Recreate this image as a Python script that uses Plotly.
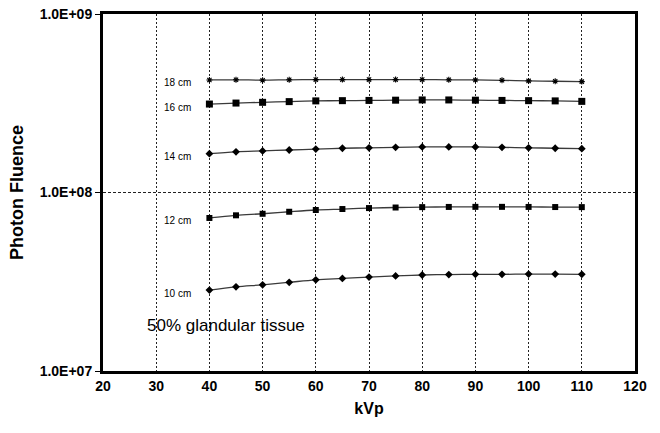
import math
import plotly.graph_objects as go

kvp = [40, 45, 50, 55, 60, 65, 70, 75, 80, 85, 90, 95, 100, 105, 110]
fluence_18 = [4.27e8, 4.28e8, 4.26e8, 4.28e8, 4.29e8, 4.29e8, 4.29e8, 4.29e8, 4.29e8, 4.28e8, 4.27e8, 4.25e8, 4.22e8, 4.20e8, 4.18e8]
fluence_16 = [3.13e8, 3.17e8, 3.20e8, 3.23e8, 3.26e8, 3.27e8, 3.28e8, 3.29e8, 3.30e8, 3.30e8, 3.29e8, 3.28e8, 3.27e8, 3.26e8, 3.24e8]
fluence_14 = [1.65e8, 1.69e8, 1.71e8, 1.73e8, 1.75e8, 1.77e8, 1.78e8, 1.79e8, 1.80e8, 1.80e8, 1.80e8, 1.79e8, 1.78e8, 1.77e8, 1.76e8]
fluence_12 = [7.20e7, 7.45e7, 7.60e7, 7.80e7, 7.98e7, 8.08e7, 8.18e7, 8.24e7, 8.28e7, 8.30e7, 8.31e7, 8.31e7, 8.30e7, 8.29e7, 8.28e7]
fluence_10 = [2.84e7, 2.96e7, 3.04e7, 3.14e7, 3.24e7, 3.30e7, 3.36e7, 3.41e7, 3.45e7, 3.47e7, 3.48e7, 3.48e7, 3.49e7, 3.49e7, 3.48e7]
series_labels = ["18 cm", "16 cm", "14 cm", "12 cm", "10 cm"]
note_text = "50% glandular tissue"
x_ticks = [20, 30, 40, 50, 60, 70, 80, 90, 100, 110, 120]
y_ticks = [1e7, 1e8, 1e9]
y_tick_text = ["1.0E+07", "1.0E+08", "1.0E+09"]

FONT = "Liberation Sans, Arial, sans-serif"
series = [fluence_18, fluence_16, fluence_14, fluence_12, fluence_10]
markers = [
    dict(symbol="asterisk-open", size=5, line=dict(width=1.1, color="black")),
    dict(symbol="square", size=7),
    dict(symbol="diamond", size=6),
    dict(symbol="square", size=6),
    dict(symbol="diamond", size=6),
]

fig = go.Figure()
for vals, mk, lab in zip(series, markers, series_labels):
    fig.add_trace(go.Scatter(
        x=kvp, y=vals, mode="lines+markers",
        line=dict(color="#3a3a3a", width=1.3, shape="spline"),
        marker=dict(color="black", **mk),
        showlegend=False, name=lab, cliponaxis=False,
    ))
    fig.add_annotation(x=37.0, y=math.log10(vals[0]), text=lab, showarrow=False,
                       xanchor="right", yanchor="middle", yshift=-3,
                       font=dict(size=10, color="black", family=FONT))

fig.add_annotation(x=27.9, y=math.log10(1.79e7), text=note_text, showarrow=False,
                   xanchor="left", yanchor="middle",
                   font=dict(size=17, color="black", family=FONT))

fig.update_layout(
    width=660, height=433,
    margin=dict(l=103, r=25, t=14, b=62),
    paper_bgcolor="white", plot_bgcolor="white",
    font=dict(family=FONT, color="black"),
    xaxis=dict(
        range=[20, 120], tickvals=x_ticks, automargin=False,
        showgrid=True, gridcolor="#222222", gridwidth=1, griddash="2px,2px",
        showline=True, linecolor="black", linewidth=3, mirror=True,
        ticks="", zeroline=False,
        tickfont=dict(size=14, family=FONT, weight="bold"),
        title=dict(text="<b>kVp</b>", font=dict(size=16, family=FONT), standoff=11),
    ),
    yaxis=dict(
        type="log", range=[7, 9], tickvals=y_ticks, ticktext=y_tick_text, automargin=False,
        showgrid=True, gridcolor="#222222", gridwidth=0.7, griddash="3px,2px",
        showline=True, linecolor="black", linewidth=3, mirror=True,
        ticks="outside", ticklen=5, tickwidth=1, tickcolor="black",
        zeroline=False,
        tickfont=dict(size=14, family=FONT, weight="bold"),
        title=dict(text="<b>Photon Fluence</b>", font=dict(size=18, family=FONT), standoff=12),
    ),
)

fig.write_html("out.html", config={"displayModeBar": False},
               post_script="document.body.style.margin='0';document.body.style.overflow='hidden';")
